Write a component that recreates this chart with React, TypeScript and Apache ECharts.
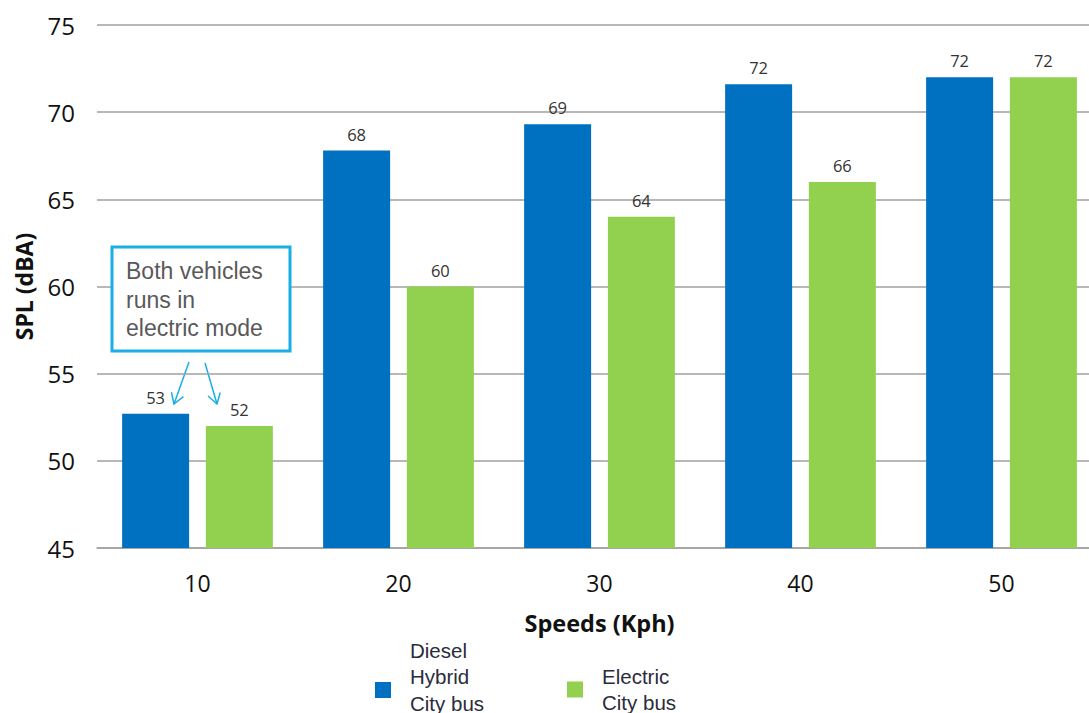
import React, { useEffect, useRef } from "react";
import * as echarts from "echarts";

const categories = ["10", "20", "30", "40", "50"];
const dieselValues = [52.7, 67.8, 69.3, 71.6, 72];
const electricValues = [52, 60, 64, 66, 72];
const dieselName = "Diesel\nHybrid\nCity bus\n";
const electricName = "Electric\nCity bus";
const noteText = "Both vehicles\nruns in\nelectric mode";

function arrow(x1: number, y1: number, x2: number, y2: number, color: string) {
  const dx = x2 - x1;
  const dy = y2 - y1;
  const len = Math.sqrt(dx * dx + dy * dy);
  const ux = dx / len;
  const uy = dy / len;
  const L = 12;
  const a = (32 * Math.PI) / 180;
  const rot = (ang: number) => [
    x2 - L * (ux * Math.cos(ang) - uy * Math.sin(ang)),
    y2 - L * (ux * Math.sin(ang) + uy * Math.cos(ang)),
  ];
  return [
    { type: "line", shape: { x1, y1, x2, y2 }, style: { stroke: color, lineWidth: 1.5 } },
    {
      type: "polyline",
      shape: { points: [rot(a), [x2, y2], rot(-a)] },
      style: { stroke: color, lineWidth: 1.5, fill: null },
    },
  ];
}

export default function App() {
  const ref = useRef<HTMLDivElement>(null);
  useEffect(() => {
    if (!ref.current) return;
    const chart = echarts.init(ref.current, null, { renderer: "svg" });
    const labelCfg = {
      show: true,
      position: "top",
      distance: 8,
      fontSize: 16.5,
      fontFamily: "Open Sans",
      color: "#333",
      formatter: (p: any) => String(Math.round(p.value)),
    };
    const cyan = "#1AAEE6";
    const legendText = {
      fontSize: 20.5,
      lineHeight: 26.5,
      fontFamily: "Liberation Sans",
      color: "#2b2b3b",
      padding: [0, 0, 0, 14],
    };
    chart.setOption({
      animation: false,
      grid: {
        left: 97,
        width: 1005,
        top: 25,
        height: 523,
        containLabel: false,
        outerBoundsMode: "none",
      },
      xAxis: {
        type: "category",
        data: categories,
        name: "Speeds (Kph)",
        nameLocation: "middle",
        nameGap: 63,
        nameTextStyle: { fontSize: 23.5, fontWeight: "bold", fontFamily: "Open Sans", color: "#111" },
        axisTick: { show: false },
        axisLine: { show: true, lineStyle: { color: "#a0a0a0", width: 1.5 } },
        axisLabel: { fontSize: 23, fontFamily: "Open Sans", color: "#111", margin: 23 },
      },
      yAxis: {
        type: "value",
        min: 45,
        max: 75,
        interval: 5,
        name: "SPL (dBA)",
        nameLocation: "middle",
        nameGap: 62,
        nameTextStyle: { fontSize: 23, fontWeight: "bold", fontFamily: "Open Sans", color: "#111" },
        axisLine: { show: false },
        axisTick: { show: false },
        axisLabel: { fontSize: 24, fontFamily: "Open Sans", color: "#111", margin: 22 },
        splitLine: { lineStyle: { color: "#a0a0a0", width: 1.5 } },
      },
      legend: [
        {
          data: [dieselName],
          left: 375,
          top: 637,
          padding: 0,
          icon: "rect",
          itemWidth: 16,
          itemHeight: 16,
          textStyle: legendText,
        },
        {
          data: [electricName],
          left: 567,
          top: 663,
          padding: 0,
          icon: "rect",
          itemWidth: 16,
          itemHeight: 16,
          textStyle: legendText,
        },
      ],
      series: [
        {
          name: dieselName,
          type: "bar",
          data: dieselValues,
          barWidth: 67,
          barGap: "25%",
          itemStyle: { color: "#0070C0" },
          label: labelCfg,
        },
        {
          name: electricName,
          type: "bar",
          data: electricValues,
          barWidth: 67,
          itemStyle: { color: "#92D050" },
          label: labelCfg,
        },
      ],
      graphic: [
        {
          type: "rect",
          shape: { x: 112, y: 247, width: 178, height: 104 },
          style: { fill: "#fff", stroke: cyan, lineWidth: 3 },
          z: 10,
        },
        {
          type: "text",
          x: 126,
          y: 257,
          style: {
            text: noteText,
            fontSize: 23,
            lineHeight: 28.5,
            fontFamily: "Liberation Sans",
            fill: "#595959",
          },
          z: 11,
        },
        ...arrow(189, 362, 174, 404, cyan),
        ...arrow(205, 363, 217, 404, cyan),
      ],
    });
    return () => chart.dispose();
  }, []);
  return <div ref={ref} style={{ width: 1089, height: 713, position: "absolute", left: 0, top: 0 }} />;
}
